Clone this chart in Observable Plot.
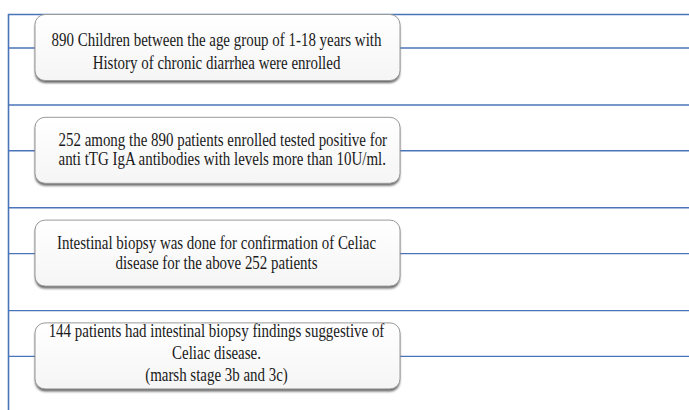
<!DOCTYPE html>
<html>
<head>
<meta charset="utf-8">
<script src="https://cdn.jsdelivr.net/npm/d3@7"></script>
<script src="https://cdn.jsdelivr.net/npm/@observablehq/plot@0.6"></script>
<style>
  html, body { margin: 0; padding: 0; background: #fff; }
</style>
</head>
<body>
<div id="chart"></div>
<script>
// ---- data: the four steps of the flow diagram ----
const stepIds = [0, 1, 2, 3];
const stepLines = [
  ["890 Children between the age group of 1-18 years with", "History of chronic diarrhea were enrolled"],
  ["252 among the 890 patients enrolled tested positive for", "anti tTG IgA antibodies with levels more than 10U/ml."],
  ["Intestinal biopsy was done for confirmation of Celiac", "disease for the above 252 patients"],
  ["144 patients had intestinal biopsy findings suggestive of", "Celiac disease.", "(marsh stage 3b and 3c)"]
];

// ---- layout (derived from step index) ----
const W = 689, H = 410;
const pitch = 102.8, first = 47.5, halfH = 33;
const boxX1 = 35, boxX2 = 400, textX = 216, leftTextX = 58, leftX = 8;
const center = i => first + i * pitch;
const lineOffsetsByStep = [[-7.5, 15], [-11, 8], [-10, 9.5], [-25, -3, 18.5]];
const leftAligned = [false, true, false, false];
const serif = "'Liberation Serif', 'Times New Roman', serif";

const boxes = stepIds.map(i => ({i, y1: center(i) - halfH, y2: center(i) + halfH}));
const midRules = stepIds.map(i => ({y: center(i)}));
const bandRules = [{y: center(0) - 33.5}, ...stepIds.slice(0, -1).map(i => ({y: center(i) + 57}))];
const texts = stepIds.flatMap(i =>
  stepLines[i].map((t, k) => ({text: t, y: center(i) + lineOffsetsByStep[i][k], left: leftAligned[i]})));

const blue = "#4a74b9";

const plot = Plot.plot({
  width: W, height: H,
  margin: 0,
  x: {domain: [0, W], range: [0, W], axis: null},
  y: {domain: [0, H], range: [0, H], axis: null},
  style: {background: "#fff", fontFamily: serif},
  marks: [
    Plot.ruleY(midRules, {y: "y", x1: leftX, x2: W, stroke: blue, strokeWidth: 1.4}),
    Plot.ruleY(bandRules, {y: "y", x1: leftX, x2: W, stroke: blue, strokeWidth: 1.4}),
    Plot.ruleX([leftX], {x: d => d, y1: center(0) - 33.5, y2: H, stroke: blue, strokeWidth: 1.6}),
    Plot.rect(boxes, {x1: boxX1, x2: boxX2, y1: d => d.y1 + 2.5, y2: d => d.y2 + 2.5, rx: 10, fill: "#444", fillOpacity: 0.8, ariaDescription: "shadow"}),
    Plot.rect(boxes, {x1: boxX1, x2: boxX2, y1: "y1", y2: "y2", rx: 10, fill: "#fff", stroke: "#9a9a9a", strokeWidth: 1, ariaDescription: "box"}),
    Plot.text(texts.filter(d => !d.left), {x: textX, y: "y", text: "text", fontSize: 18, fontFamily: serif, fill: "#1a1a1a", ariaDescription: "label"}),
    Plot.text(texts.filter(d => d.left), {x: leftTextX, y: "y", text: "text", textAnchor: "start", fontSize: 18, fontFamily: serif, fill: "#1a1a1a", ariaDescription: "label"})
  ]
});

// soft shadow + gradient fill
const svg = d3.select(plot);
const defs = svg.insert("defs", ":first-child");
defs.append("filter").attr("id", "blur").attr("x", "-5%").attr("y", "-20%").attr("width", "110%").attr("height", "140%")
  .append("feGaussianBlur").attr("stdDeviation", 1.2);
const grad = defs.append("linearGradient").attr("id", "boxgrad").attr("x1", 0).attr("y1", 0).attr("x2", 0).attr("y2", 1);
grad.append("stop").attr("offset", "0%").attr("stop-color", "#ffffff");
grad.append("stop").attr("offset", "100%").attr("stop-color", "#f5f5f5");
svg.select('g[aria-description="shadow"]').attr("filter", "url(#blur)");
svg.selectAll('g[aria-description="box"] rect').attr("fill", "url(#boxgrad)");

document.getElementById("chart").appendChild(plot);

// horizontally condense the serif text to match the reference rendering
svg.selectAll('g[aria-description="label"] text').each(function() {
  this.style.fontFamily = serif;
  const len = this.getComputedTextLength();
  this.setAttribute("textLength", (len * 0.83).toFixed(1));
  this.setAttribute("lengthAdjust", "spacingAndGlyphs");
});
</script>
</body>
</html>
